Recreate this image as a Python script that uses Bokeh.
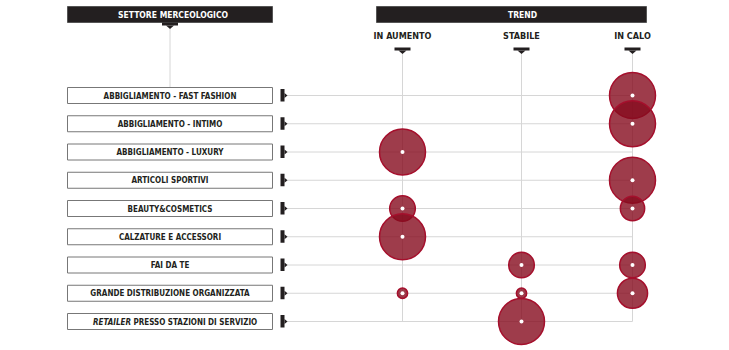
import numpy as np
from bokeh.plotting import figure
from bokeh.models import Range1d, ColumnDataSource
from bokeh.core.properties import value
from bokeh.embed import file_html
from bokeh.resources import INLINE

# ---------------- data ----------------
sectors = [
    "ABBIGLIAMENTO - FAST FASHION",
    "ABBIGLIAMENTO - INTIMO",
    "ABBIGLIAMENTO - LUXURY",
    "ARTICOLI SPORTIVI",
    "BEAUTY&COSMETICS",
    "CALZATURE E ACCESSORI",
    "FAI DA TE",
    "GRANDE DISTRIBUZIONE ORGANIZZATA",
    "RETAILER PRESSO STAZIONI DI SERVIZIO",
]
italic_word = "RETAILER"
trends = ["IN AUMENTO", "STABILE", "IN CALO"]
in_aumento = [0, 0, 100, 0, 31, 100, 0, 5, 0]
stabile = [0, 0, 0, 0, 0, 0, 31, 5, 100]
in_calo = [100, 100, 0, 100, 28, 0, 31, 43, 0]
left_title = "SETTORE MERCEOLOGICO"
right_title = "TREND"

# ---------------- layout ----------------
W, H = 729, 350
ROW0, ROW_STEP = 95.0, 28.25
COL_X = [402.0, 521.0, 632.0]
BOX_L, BOX_R, BOX_H = 67.0, 272.0, 16.0
BOX_CX = (BOX_L + BOX_R) / 2
R_MAX = 23.0
FONT = "Liberation Sans Narrow, DejaVu Sans Condensed, Roboto Condensed, Liberation Sans"
DARK = "#231f20"
GRID = "#d6d6d6"

p = figure(width=W, height=H, x_range=Range1d(0, W), y_range=Range1d(H, 0),
           x_axis_type=None, y_axis_type=None, toolbar_location=None,
           output_backend="svg", min_border=0)
p.grid.visible = False
p.outline_line_color = None

rows_y = [ROW0 + i * ROW_STEP for i in range(len(sectors))]
last_y = rows_y[-1]

# grid lines
p.segment(x0=[286] * len(rows_y), x1=[COL_X[-1]] * len(rows_y), y0=rows_y, y1=rows_y,
          line_color=GRID, line_width=1)
p.segment(x0=COL_X, x1=COL_X, y0=[52] * 3, y1=[last_y] * 3, line_color=GRID, line_width=1)
p.segment(x0=[BOX_CX], x1=[BOX_CX], y0=[28], y1=[rows_y[0] - BOX_H / 2], line_color=GRID, line_width=1)

# header bars
p.quad(left=[BOX_L, 376], right=[BOX_R, 646], top=[6, 6], bottom=[22, 22],
       fill_color=DARK, line_color="#555555", line_width=1)
p.text(x=[BOX_CX + 3, 522], y=[14.5, 14.5], text=[left_title, right_title],
       text_color="white", text_font=value(FONT), text_font_style="bold",
       text_font_size="8.5px", text_align="center", text_baseline="middle")

# tab markers (pointing down)
tab_x = [BOX_CX] + COL_X
tab_y = [22] + [47] * 3
p.quad(left=[x - 8 for x in tab_x], right=[x + 8 for x in tab_x],
       top=tab_y, bottom=[y + 3 for y in tab_y], fill_color=DARK, line_color=None)
p.patches(xs=[[x - 4, x + 4, x] for x in tab_x],
          ys=[[y + 3, y + 3, y + 6.5] for y in tab_y], fill_color=DARK, line_color=None)

# column labels
p.text(x=COL_X, y=[35] * 3, text=trends, text_color=DARK, text_font=value(FONT),
       text_font_style="bold", text_font_size="9px", text_align="center",
       text_baseline="middle")

# label boxes
p.quad(left=[BOX_L] * len(rows_y), right=[BOX_R] * len(rows_y),
       top=[y - BOX_H / 2 for y in rows_y], bottom=[y + BOX_H / 2 for y in rows_y],
       fill_color="white", line_color="#777777", line_width=1)

# row markers (pointing right)
p.quad(left=[280] * len(rows_y), right=[284] * len(rows_y),
       top=[y - 6.5 for y in rows_y], bottom=[y + 6 for y in rows_y],
       fill_color=DARK, line_color=None)
p.patches(xs=[[284, 284, 287] for _ in rows_y],
          ys=[[y - 2.5, y + 2.5, y] for y in rows_y], fill_color=DARK, line_color=None)

# label texts
plain_x, plain_y, plain_t = [], [], []
for y, s in zip(rows_y, sectors):
    if s.startswith(italic_word):
        rest = s[len(italic_word):]
        p.text(x=[130.5], y=[y + 0.5], text=[italic_word], text_color=DARK,
               text_font=value(FONT), text_font_style="bold italic", text_font_size="8px",
               text_align="right", text_baseline="middle")
        p.text(x=[133.0], y=[y + 0.5], text=[rest.strip()], text_color=DARK,
               text_font=value(FONT), text_font_style="bold", text_font_size="8px",
               text_align="left", text_baseline="middle")
    else:
        plain_x.append(BOX_CX)
        plain_y.append(y + 0.5)
        plain_t.append(s)
p.text(x=plain_x, y=plain_y, text=plain_t, text_color=DARK, text_font=value(FONT),
       text_font_style="bold", text_font_size="8px", text_align="center",
       text_baseline="middle")

# bubbles
bx, by, bs = [], [], []
for j, series in enumerate([in_aumento, stabile, in_calo]):
    for i, v in enumerate(series):
        if v > 0:
            bx.append(COL_X[j])
            by.append(rows_y[i])
            bs.append(2 * R_MAX * np.sqrt(v / 100.0))
src = ColumnDataSource(dict(x=bx, y=by, size=bs))
p.scatter(x="x", y="y", size="size", source=src, fill_color="#860b1e", fill_alpha=0.8,
          line_color="#a50f2c", line_width=1.5)
p.scatter(x="x", y="y", size=4, source=src, fill_color="white", line_color=None)

open("out.html", "w").write(file_html(p, INLINE))
